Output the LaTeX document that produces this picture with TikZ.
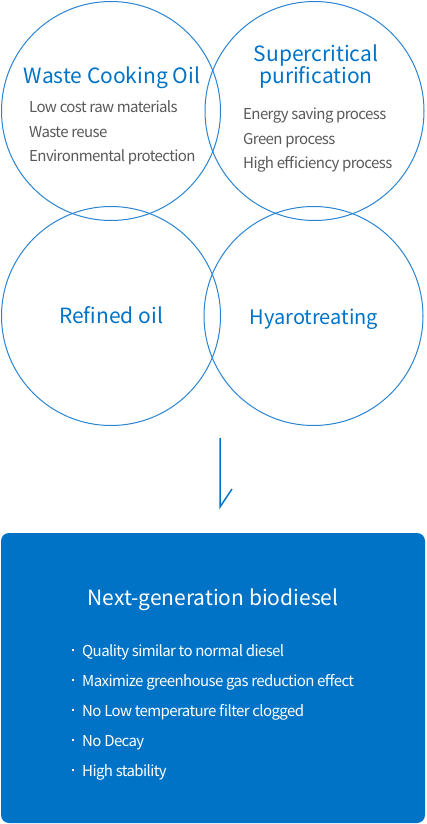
\documentclass[tikz,border=0pt]{standalone}
\usepackage{fontspec}
\setmainfont{Noto Sans CJK KR}
\newfontfamily\tightfont{Noto Sans CJK KR}[LetterSpace=-4]
\usetikzlibrary{positioning}
\definecolor{bioblue}{HTML}{0073C7}
\definecolor{ringblue}{HTML}{2A84D2}
\definecolor{itemgray}{HTML}{595959}
\tikzset{
  >=latex,
}
\tikzstyle{ring}=[circle,draw=ringblue,line width=1pt,minimum size=219pt,inner sep=0pt]
\tikzstyle{heading}=[text=bioblue,font=\fontsize{21}{23}\selectfont,inner sep=0pt,anchor=base]
\tikzstyle{item}=[text=itemgray,font=\tightfont\fontsize{15}{17}\selectfont,inner sep=0pt,anchor=base west]
\tikzstyle{panel}=[fill=bioblue,rounded corners=8pt,minimum width=424pt,minimum height=290pt,inner sep=0pt]
\tikzstyle{point}=[text=white,font=\tightfont\fontsize{15}{17}\selectfont,inner sep=0pt,anchor=base west]
\tikzstyle{flow}=[draw=bioblue,line width=1.5pt]

\begin{document}
\begin{tikzpicture}[x=1pt,y=-1pt]
    \useasboundingbox (0,0) rectangle (426,824);
    % four circles
    \node[ring] (waste) at (111,111) {};
    \node[ring] (super) at (314.5,111) {};
    \node[ring] (refined) at (111,316) {};
    \node[ring] (hydro) at (313.5,316) {};
    \node[heading] (wastetitle) at (112,84) {Waste Cooking Oil};
    \node[item] (waste1) at (29,113) {Low cost raw materials};
    \node[item] (waste2) at (29,137) {Waste reuse};
    \node[item] (waste3) at (29,161) {Environmental protection};
    \node[heading] (supertitle) at (316,62) {Supercritical};
    \node[heading] (supertitle2) at (316,84) {purification};
    \node[item] (super1) at (243,120) {Energy saving process};
    \node[item] (super2) at (243,144) {Green process};
    \node[item] (super3) at (243,168) {High efficiency process};
    \node[heading] (refinedtitle) at (111,323) {Refined oil};
    \node[heading,font=\fontsize{20}{22}\selectfont] (hydrotitle) at (314,324) {Hyarotreating};
    % arrow down
    \coordinate (arrtop) at (220,438);
    \coordinate (arrbot) at (220,507);
    \coordinate (arrtip) at (232,489);
    \draw[flow] (arrtop) -- (arrbot) -- (arrtip);
    % result box
    \node[panel] (biodiesel) at (213,678) {};
    \node[heading,text=white,font=\fontsize{21}{23}\selectfont] (biotitle) at (213,605) {Next-generation biodiesel};
    \foreach \txt [count=\i] in {Quality similar to normal diesel,
        Maximize greenhouse gas reduction effect,
        No Low temperature filter clogged,
        No Decay,
        High stability}{
      \node[point] (pt\i) at (82,{656+30*(\i-1)}) {\txt};
      \fill[white] (71.8,{648.5+30*(\i-1)}) rectangle ++(2.6,2.6);
    }
\end{tikzpicture}
\end{document}
